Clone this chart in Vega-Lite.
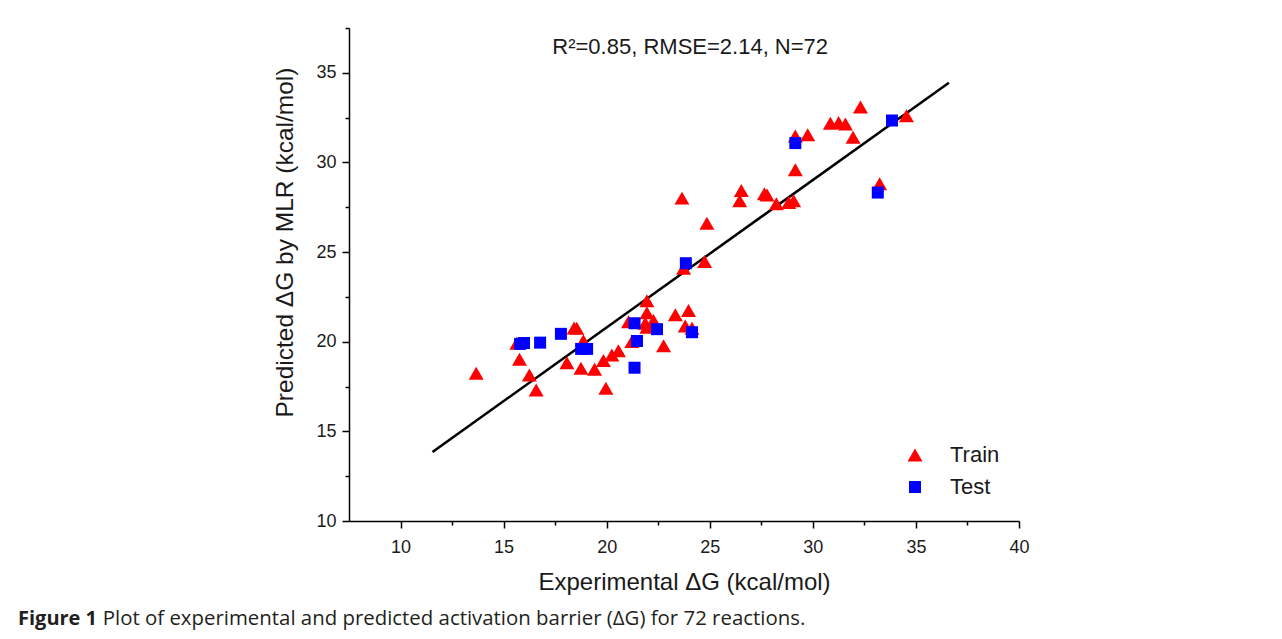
{
  "$schema": "https://vega.github.io/schema/vega-lite/v6.json",
  "autosize": {"type": "none"},
  "width": 670,
  "height": 493,
  "padding": {"left": 349, "top": 28, "right": 263, "bottom": 118},
  "background": "white",
  "config": {
    "view": {"stroke": null},
    "axis": {"grid": false, "domainColor": "#000", "tickColor": "#000", "domainWidth": 1.5, "tickWidth": 1.5, "labelFont": "Liberation Sans", "titleFont": "Liberation Sans", "labelColor": "#1a1a1a", "titleColor": "#1a1a1a", "titleFontWeight": "normal", "labelFlush": false},
    "legend": {"labelFont": "Liberation Sans", "labelFontSize": 22, "labelColor": "#1a1a1a", "padding": 0, "rowPadding": 10, "labelOffset": 24}
  },
  "datasets": {
    "points": [
      {"exp": 13.67, "pred": 18.24, "set": "Train"},
      {"exp": 15.64, "pred": 19.92, "set": "Train"},
      {"exp": 15.77, "pred": 19.02, "set": "Train"},
      {"exp": 16.25, "pred": 18.15, "set": "Train"},
      {"exp": 16.58, "pred": 17.31, "set": "Train"},
      {"exp": 18.07, "pred": 18.83, "set": "Train"},
      {"exp": 18.55, "pred": 20.75, "set": "Train"},
      {"exp": 18.42, "pred": 20.77, "set": "Train"},
      {"exp": 18.87, "pred": 20.06, "set": "Train"},
      {"exp": 18.75, "pred": 18.52, "set": "Train"},
      {"exp": 19.41, "pred": 18.47, "set": "Train"},
      {"exp": 19.84, "pred": 18.95, "set": "Train"},
      {"exp": 19.96, "pred": 17.41, "set": "Train"},
      {"exp": 20.25, "pred": 19.26, "set": "Train"},
      {"exp": 20.57, "pred": 19.5, "set": "Train"},
      {"exp": 21.06, "pred": 21.12, "set": "Train"},
      {"exp": 21.22, "pred": 20.01, "set": "Train"},
      {"exp": 21.95, "pred": 22.29, "set": "Train"},
      {"exp": 21.95, "pred": 21.62, "set": "Train"},
      {"exp": 21.87, "pred": 21.03, "set": "Train"},
      {"exp": 22.27, "pred": 21.18, "set": "Train"},
      {"exp": 21.95, "pred": 20.81, "set": "Train"},
      {"exp": 22.76, "pred": 19.77, "set": "Train"},
      {"exp": 23.33, "pred": 21.5, "set": "Train"},
      {"exp": 23.97, "pred": 21.74, "set": "Train"},
      {"exp": 23.81, "pred": 20.88, "set": "Train"},
      {"exp": 24.14, "pred": 20.75, "set": "Train"},
      {"exp": 23.65, "pred": 28.01, "set": "Train"},
      {"exp": 23.73, "pred": 24.1, "set": "Train"},
      {"exp": 24.75, "pred": 24.47, "set": "Train"},
      {"exp": 24.86, "pred": 26.61, "set": "Train"},
      {"exp": 26.53, "pred": 28.43, "set": "Train"},
      {"exp": 26.45, "pred": 27.87, "set": "Train"},
      {"exp": 27.78, "pred": 28.19, "set": "Train"},
      {"exp": 27.65, "pred": 28.25, "set": "Train"},
      {"exp": 28.23, "pred": 27.69, "set": "Train"},
      {"exp": 28.83, "pred": 27.76, "set": "Train"},
      {"exp": 29.07, "pred": 27.87, "set": "Train"},
      {"exp": 29.15, "pred": 29.59, "set": "Train"},
      {"exp": 29.15, "pred": 31.48, "set": "Train"},
      {"exp": 29.75, "pred": 31.54, "set": "Train"},
      {"exp": 30.85, "pred": 32.19, "set": "Train"},
      {"exp": 31.25, "pred": 32.23, "set": "Train"},
      {"exp": 31.58, "pred": 32.15, "set": "Train"},
      {"exp": 31.95, "pred": 31.41, "set": "Train"},
      {"exp": 32.31, "pred": 33.09, "set": "Train"},
      {"exp": 33.24, "pred": 28.81, "set": "Train"},
      {"exp": 34.54, "pred": 32.6, "set": "Train"},
      {"exp": 15.8, "pred": 19.88, "set": "Test"},
      {"exp": 15.99, "pred": 19.93, "set": "Test"},
      {"exp": 16.77, "pred": 19.95, "set": "Test"},
      {"exp": 17.78, "pred": 20.44, "set": "Test"},
      {"exp": 18.76, "pred": 19.6, "set": "Test"},
      {"exp": 19.05, "pred": 19.6, "set": "Test"},
      {"exp": 21.35, "pred": 21.03, "set": "Test"},
      {"exp": 21.47, "pred": 20.04, "set": "Test"},
      {"exp": 21.35, "pred": 18.55, "set": "Test"},
      {"exp": 22.44, "pred": 20.7, "set": "Test"},
      {"exp": 24.14, "pred": 20.53, "set": "Test"},
      {"exp": 23.84, "pred": 24.38, "set": "Test"},
      {"exp": 29.15, "pred": 31.08, "set": "Test"},
      {"exp": 33.15, "pred": 28.32, "set": "Test"},
      {"exp": 33.84, "pred": 32.34, "set": "Test"}
    ],
    "fit": [{"x": 11.55, "y": 13.85, "x2": 36.6, "y2": 34.45}],
    "note": [{"label": "R²=0.85, RMSE=2.14, N=72", "x": 24.05, "y": 36.45}]
  },
  "title": {
    "text": "Figure 1",
    "subtitle": "\u200b\u00a0\u00a0\u00a0\u00a0\u00a0\u00a0\u00a0\u00a0\u00a0\u00a0\u00a0\u00a0\u00a0\u00a0\u00a0\u00a0Plot of experimental and predicted activation barrier (ΔG) for 72 reactions.",
    "orient": "bottom",
    "anchor": "start",
    "frame": "group",
    "dx": -331,
    "offset": 15,
    "font": "Open Sans",
    "fontSize": 20,
    "fontWeight": "bold",
    "color": "#231f20",
    "subtitleFont": "Open Sans",
    "subtitleFontSize": 20.4,
    "subtitleFontWeight": "normal",
    "subtitleColor": "#231f20",
    "subtitlePadding": -20
  },
  "layer": [
    {
      "data": {"name": "fit"},
      "mark": {"type": "rule", "color": "#000", "strokeWidth": 2.5},
      "encoding": {
        "x": {"field": "x", "type": "quantitative", "scale": {"domain": [7.5, 40], "nice": false, "zero": false},
              "axis": {"orient": "bottom", "values": [12.5, 17.5, 22.5, 27.5, 32.5, 37.5], "labels": false, "domain": false, "tickSize": 4, "title": null}},
        "y": {"field": "y", "type": "quantitative", "scale": {"domain": [10, 37.5], "nice": false, "zero": false},
              "axis": {"orient": "left", "values": [12.5, 17.5, 22.5, 27.5, 32.5, 37.5], "labels": false, "domain": false, "tickSize": 4, "title": null}},
        "x2": {"field": "x2"},
        "y2": {"field": "y2"}
      }
    },
    {
      "data": {"name": "points"},
      "mark": {"type": "point", "filled": true, "opacity": 1},
      "encoding": {
        "x": {"field": "exp", "type": "quantitative",
              "axis": {"orient": "bottom", "values": [10, 15, 20, 25, 30, 35, 40], "tickSize": 7, "labelFontSize": 18, "labelPadding": 10, "title": "Experimental ΔG (kcal/mol)", "titleFontSize": 24, "titlePadding": 14}},
        "y": {"field": "pred", "type": "quantitative",
              "axis": {"orient": "left", "values": [10, 15, 20, 25, 30, 35], "tickSize": 7, "labelFontSize": 18, "labelPadding": 6, "title": "Predicted ΔG by MLR (kcal/mol)", "titleFontSize": 24.5, "titlePadding": 18, "titleY": 214}},
        "shape": {"field": "set", "type": "nominal", "scale": {"domain": ["Train", "Test"], "range": ["triangle-up", "square"]}, "legend": {"title": null, "orient": "none", "legendX": 555, "legendY": 416}},
        "color": {"field": "set", "type": "nominal", "scale": {"domain": ["Train", "Test"], "range": ["#ff0000", "#0000ff"]}, "legend": {"title": null, "orient": "none", "legendX": 555, "legendY": 416}},
        "size": {"field": "set", "type": "ordinal", "scale": {"domain": ["Train", "Test"], "range": [225, 144]}, "legend": {"title": null, "orient": "none", "legendX": 555, "legendY": 416}}
      }
    },
    {
      "data": {"name": "note"},
      "mark": {"type": "text", "font": "Liberation Sans", "fontSize": 22, "color": "#1a1a1a", "baseline": "middle", "align": "center"},
      "encoding": {
        "x": {"field": "x", "type": "quantitative", "axis": null},
        "y": {"field": "y", "type": "quantitative", "axis": null},
        "text": {"field": "label"}
      }
    }
  ],
  "resolve": {"axis": {"x": "independent", "y": "independent"}}
}
